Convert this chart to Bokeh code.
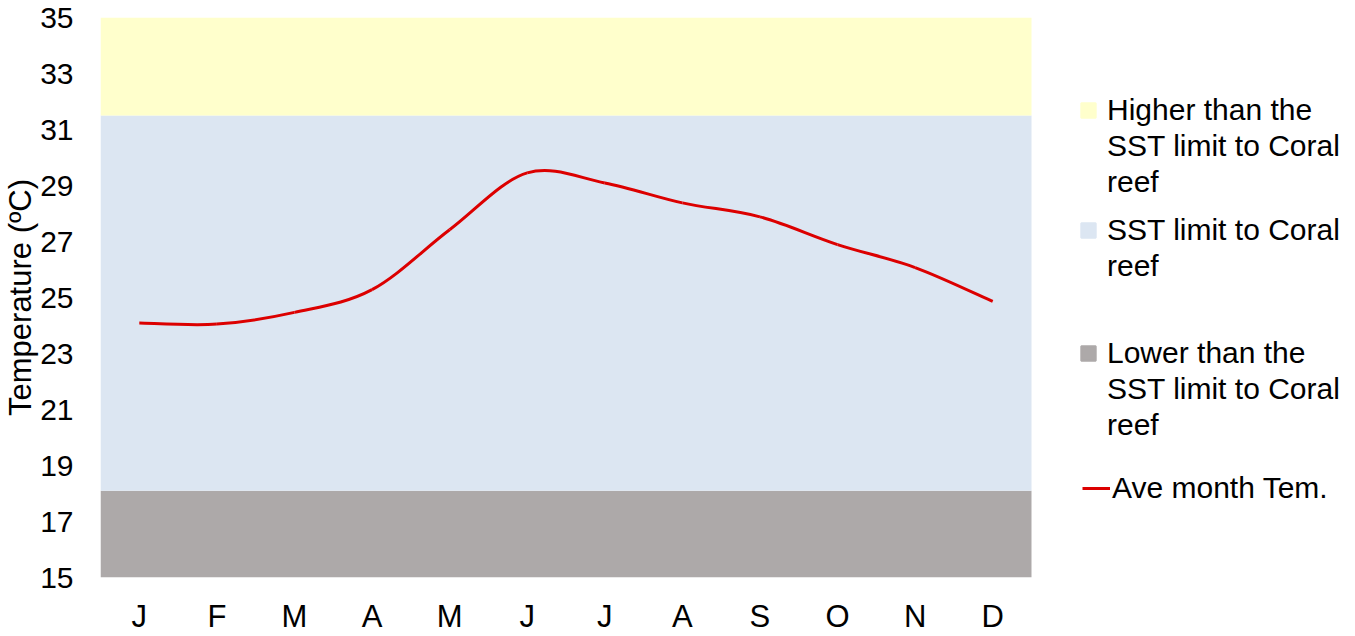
import numpy as np
from bokeh.plotting import figure
from bokeh.models import (Range1d, FixedTicker, Legend, LegendItem, ColumnDataSource)
from bokeh.embed import file_html
from bokeh.resources import INLINE
from bokeh.core.properties import value

# ---------------- data ----------------
months = ["J", "F", "M", "A", "M", "J", "J", "A", "S", "O", "N", "D"]
ave_temp = [24.09, 24.05, 24.47, 25.28, 27.42, 29.45, 29.09, 28.38, 27.88, 26.89, 26.07, 24.86]
line_label = "Ave month Tem."

band_bottom = [15.0, 18.1, 31.5]
band_top = [18.1, 31.5, 35.0]
band_labels = [["Lower than the", "SST limit to Coral", "reef"],
               ["SST limit to Coral", "reef"],
               ["Higher than the", "SST limit to Coral", "reef"]]
band_colors = ["#ADA9A9", "#DCE6F2", "#FFFFCC"]

y_ticks = [15, 17, 19, 21, 23, 25, 27, 29, 31, 33, 35]
y_title = "Temperature (ºC)"

FONT = "Liberation Sans"

# ---------------- layout geometry ----------------
W, H = 1350, 636
LEFT, TOP = 100, 17
PLOT_RIGHT = 1031          # right edge of the coloured plot area
n = len(months)
x_end = n * (W - LEFT) / (PLOT_RIGHT - LEFT)   # frame extends under the legend

p = figure(width=W, height=H, output_backend="svg", toolbar_location=None,
           x_range=Range1d(0, x_end), y_range=Range1d(15, 35),
           min_border_left=LEFT, min_border_right=0, min_border_top=TOP,
           min_border_bottom=40)
p.outline_line_color = None
p.grid.visible = False
p.background_fill_color = "white"

# bands
band_src = ColumnDataSource(dict(bottom=band_bottom, top=band_top, color=band_colors))
p.quad(left=0, right=n, bottom="bottom", top="top", fill_color="color",
       line_color=None, source=band_src)

# smoothed line (Bezier segments through the monthly points)
xs = np.arange(n) + 0.5
ys = np.array(ave_temp, dtype=float)
xp = np.concatenate([[xs[0]], xs, [xs[-1]]])
yp = np.concatenate([[ys[0]], ys, [ys[-1]]])
seg = dict(x0=[], y0=[], x1=[], y1=[], cx0=[], cy0=[], cx1=[], cy1=[])
for i in range(n - 1):
    seg["x0"].append(xs[i]); seg["y0"].append(ys[i])
    seg["x1"].append(xs[i + 1]); seg["y1"].append(ys[i + 1])
    seg["cx0"].append(xs[i] + (xp[i + 2] - xp[i]) / 6)
    seg["cy0"].append(ys[i] + (yp[i + 2] - yp[i]) / 6)
    seg["cx1"].append(xs[i + 1] - (xp[i + 3] - xp[i + 1]) / 6)
    seg["cy1"].append(ys[i + 1] - (yp[i + 3] - yp[i + 1]) / 6)
line_r = p.bezier(x0="x0", y0="y0", x1="x1", y1="y1", cx0="cx0", cy0="cy0",
                  cx1="cx1", cy1="cy1", source=ColumnDataSource(seg),
                  line_color="#DC0000", line_width=3)

# axes
for ax in (p.xaxis[0], p.yaxis[0]):
    ax.axis_line_color = None
    ax.major_tick_line_color = None
    ax.minor_tick_line_color = None
    ax.major_tick_out = 0
    ax.major_tick_in = 0
    ax.major_label_text_font = FONT
    ax.major_label_text_color = "#000000"

xax = p.xaxis[0]
xax.ticker = FixedTicker(ticks=list(xs))
xax.major_label_overrides = {float(x): m for x, m in zip(xs, months)}
xax.major_label_text_font_size = "31px"
xax.major_label_standoff = 21

yax = p.yaxis[0]
yax.ticker = FixedTicker(ticks=y_ticks)
yax.major_label_standoff = 27
yax.major_label_text_font_size = "30px"
yax.axis_label = y_title
yax.axis_label_standoff = -1
yax.axis_label_text_font = FONT
yax.axis_label_text_font_size = "31px"
yax.axis_label_text_font_style = "normal"
yax.axis_label_text_color = "#000000"

# legend: one legend block per series, one item per text line
blank = p.scatter(x=[float("nan")], y=[float("nan")], marker="square",
                  fill_alpha=0, line_alpha=0)

def add_legend(first_renderer, lines, loc, gw, gh, standoff):
    items = [LegendItem(label=value(lines[0]), renderers=[first_renderer])]
    items += [LegendItem(label=value(t), renderers=[blank]) for t in lines[1:]]
    lg = Legend(items=items, location=loc, orientation="vertical", padding=0,
                margin=0, spacing=0, border_line_color=None,
                background_fill_alpha=0, glyph_width=gw, glyph_height=gh,
                label_standoff=standoff, label_height=36,
                label_text_font=FONT, label_text_font_size="30px",
                label_text_color="#000000")
    p.add_layout(lg, "center")

legend_y = {2: 377, 1: 293, 0: 134}
for i in [2, 1, 0]:
    r = p.scatter(x=[float("nan")], y=[float("nan")], marker="square",
                  fill_color=band_colors[i], line_color=band_colors[i], line_width=2)
    add_legend(r, band_labels[i], (970, legend_y[i]), 36, 36, 1)

add_legend(line_r, [line_label], (982, 71), 28, 36, 2)

open("out.html", "w").write(file_html(p, INLINE))
